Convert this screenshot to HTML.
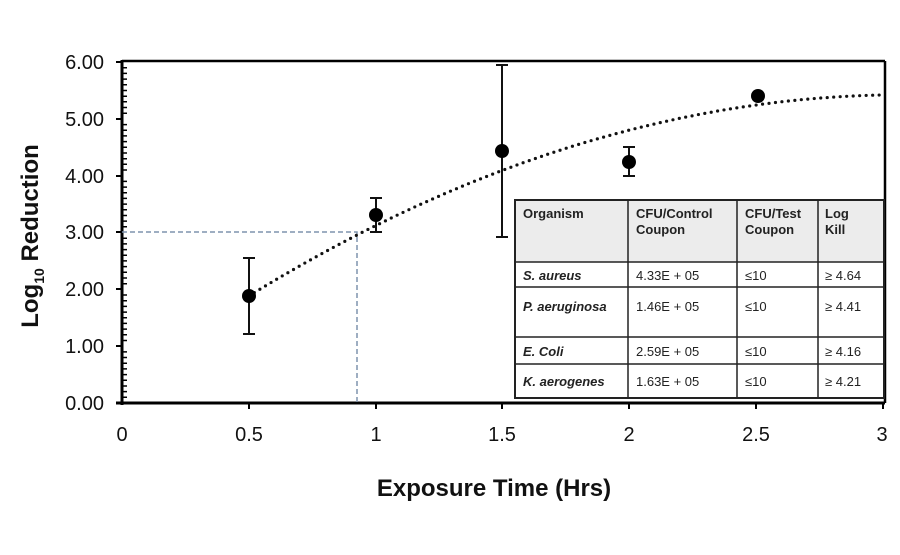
<!DOCTYPE html>
<html><head><meta charset="utf-8"><style>
body{margin:0;background:#fff;}
svg text{font-family:"Liberation Sans",sans-serif;}
</style></head><body>
<svg width="900" height="550" viewBox="0 0 900 550" xmlns="http://www.w3.org/2000/svg">
<path stroke="#000" stroke-width="1.5" d="M122 397.3h5M122 391.6h5M122 386h5M122 380.3h5M122 374.6h5M122 368.9h5M122 363.2h5M122 357.5h5M122 351.9h5M122 340.5h5M122 334.8h5M122 329.1h5M122 323.4h5M122 317.7h5M122 312.1h5M122 306.4h5M122 300.7h5M122 295h5M122 283.7h5M122 278h5M122 272.3h5M122 266.6h5M122 260.9h5M122 255.2h5M122 249.6h5M122 243.9h5M122 238.2h5M122 226.8h5M122 221.1h5M122 215.5h5M122 209.8h5M122 204.1h5M122 198.4h5M122 192.7h5M122 187.1h5M122 181.4h5M122 170h5M122 164.3h5M122 158.7h5M122 153h5M122 147.3h5M122 141.6h5M122 135.9h5M122 130.3h5M122 124.6h5M122 113.2h5M122 107.5h5M122 101.8h5M122 96.2h5M122 90.5h5M122 84.8h5M122 79.1h5M122 73.4h5M122 67.8h5"/>
<line x1="122" y1="61" x2="885" y2="61" stroke="#000" stroke-width="2.5"/>
<line x1="885" y1="61" x2="885" y2="403" stroke="#000" stroke-width="2.5"/>
<line x1="122" y1="60" x2="122" y2="405" stroke="#000" stroke-width="3"/>
<line x1="116" y1="403" x2="885" y2="403" stroke="#000" stroke-width="3"/>
<g stroke="#000" stroke-width="2">
<line x1="116" x2="122" y1="62" y2="62"/><line x1="116" x2="122" y1="119" y2="119"/><line x1="116" x2="122" y1="176" y2="176"/><line x1="116" x2="122" y1="232" y2="232"/><line x1="116" x2="122" y1="289" y2="289"/><line x1="116" x2="122" y1="346" y2="346"/>
<line x1="249" x2="249" y1="403" y2="409"/><line x1="376" x2="376" y1="403" y2="409"/><line x1="502" x2="502" y1="403" y2="409"/><line x1="629" x2="629" y1="403" y2="409"/><line x1="756" x2="756" y1="403" y2="409"/><line x1="883" x2="883" y1="403" y2="409"/>
</g>
<g font-size="20" fill="#111" text-anchor="end">
<text x="104" y="69">6.00</text><text x="104" y="126">5.00</text><text x="104" y="183">4.00</text><text x="104" y="239">3.00</text><text x="104" y="296">2.00</text><text x="104" y="353">1.00</text><text x="104" y="410">0.00</text>
</g>
<g font-size="20" fill="#111" text-anchor="middle">
<text x="122" y="441">0</text><text x="249" y="441">0.5</text><text x="376" y="441">1</text><text x="502" y="441">1.5</text><text x="629" y="441">2</text><text x="756" y="441">2.5</text><text x="882" y="441">3</text>
</g>
<text x="494" y="496" font-size="24" font-weight="bold" text-anchor="middle" fill="#111">Exposure Time (Hrs)</text>
<text transform="translate(38,236) rotate(-90)" font-size="24" font-weight="bold" text-anchor="middle" fill="#111">Log<tspan font-size="14" dy="6">10</tspan><tspan dy="-6"> Reduction</tspan></text>
<polyline points="122,232 357,232 357,403" fill="none" stroke="#7f93ad" stroke-width="1.5" stroke-dasharray="5,3"/>
<path id="fit" fill="none" stroke="#111" stroke-width="3.2" stroke-linecap="round" stroke-dasharray="0 6.5"/>
<script>
(function(){var d='';for(var i=0;i<=100;i++){var x=0.5+2.5*i/100;var y=0.38+3.27*x-0.53*x*x;var px=122+x*253.5,py=403-y*56.83;d+=(i?'L':'M')+px.toFixed(1)+' '+py.toFixed(1);}document.getElementById('fit').setAttribute('d',d);})();
</script>
<g stroke="#111" stroke-width="2">
<line x1="249" x2="249" y1="258" y2="334"/><line x1="243" x2="255" y1="258" y2="258"/><line x1="243" x2="255" y1="334" y2="334"/>
<line x1="376" x2="376" y1="198" y2="232"/><line x1="370" x2="382" y1="198" y2="198"/><line x1="370" x2="382" y1="232" y2="232"/>
<line x1="502" x2="502" y1="65" y2="237"/><line x1="496" x2="508" y1="65" y2="65"/><line x1="496" x2="508" y1="237" y2="237"/>
<line x1="629" x2="629" y1="147" y2="176"/><line x1="623" x2="635" y1="147" y2="147"/><line x1="623" x2="635" y1="176" y2="176"/>
</g>
<g fill="#000">
<circle cx="249" cy="296" r="7"/><circle cx="376" cy="215" r="7"/><circle cx="502" cy="151" r="7"/><circle cx="629" cy="162" r="7"/><circle cx="758" cy="96" r="7"/>
</g>
<rect x="515" y="200" width="369" height="62" fill="#ececec"/>
<rect x="515" y="262" width="369" height="136" fill="#fff"/>
<g stroke="#222" stroke-width="1.5" fill="none">
<rect x="515" y="200" width="369" height="198" stroke-width="2"/>
<line x1="628" x2="628" y1="200" y2="398"/><line x1="737" x2="737" y1="200" y2="398"/><line x1="818" x2="818" y1="200" y2="398"/>
<line x1="515" x2="884" y1="262" y2="262"/><line x1="515" x2="884" y1="287" y2="287"/><line x1="515" x2="884" y1="337" y2="337"/><line x1="515" x2="884" y1="364" y2="364"/>
</g>
<g font-size="13" fill="#222">
<g font-weight="bold">
<text x="523" y="218">Organism</text>
<text x="636" y="218">CFU/Control</text><text x="636" y="234">Coupon</text>
<text x="745" y="218">CFU/Test</text><text x="745" y="234">Coupon</text>
<text x="825" y="218">Log</text><text x="825" y="234">Kill</text>
<g font-style="italic"><text x="523" y="280">S. aureus</text><text x="523" y="311">P. aeruginosa</text><text x="523" y="356">E. Coli</text><text x="523" y="386">K. aerogenes</text></g>
</g>
<text x="636" y="280">4.33E + 05</text><text x="636" y="311">1.46E + 05</text><text x="636" y="356">2.59E + 05</text><text x="636" y="386">1.63E + 05</text>
<text x="745" y="280">≤10</text><text x="745" y="311">≤10</text><text x="745" y="356">≤10</text><text x="745" y="386">≤10</text>
<text x="825" y="280">≥ 4.64</text><text x="825" y="311">≥ 4.41</text><text x="825" y="356">≥ 4.16</text><text x="825" y="386">≥ 4.21</text>
</g>
</svg>
</body></html>
